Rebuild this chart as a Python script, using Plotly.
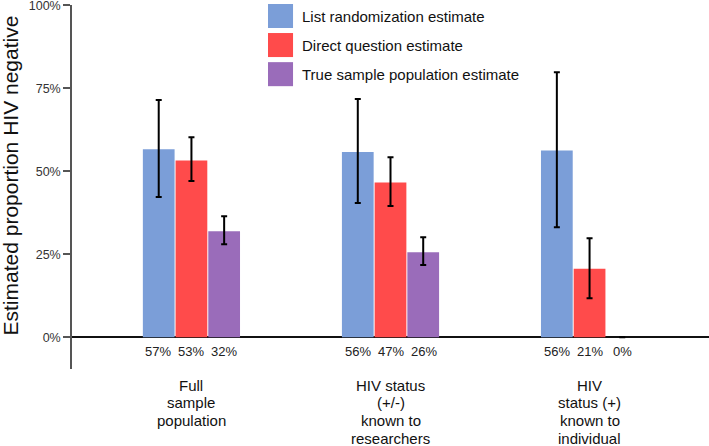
import plotly.graph_objects as go

# values (percent)
groups = [["Full", "sample", "population"],
          ["HIV status", "(+/-)", "known to", "researchers"],
          ["HIV", "status (+)", "known to", "individual"]]
series = ["List randomization estimate", "Direct question estimate",
          "True sample population estimate"]
colors = ["#7b9ed8", "#ff4b4b", "#9a6cba"]

list_est = [56.6, 55.8, 56.2]
list_hi = [71.4, 71.7, 79.8]
list_lo = [42.2, 40.4, 33.1]

direct_est = [53.2, 46.6, 20.6]
direct_hi = [60.2, 54.2, 29.8]
direct_lo = [47.0, 39.5, 11.7]

true_est = [31.9, 25.6, 0.0]
true_hi = [36.4, 30.1, None]
true_lo = [28.0, 21.7, None]

values = [list_est, direct_est, true_est]
highs = [list_hi, direct_hi, true_hi]
lows = [list_lo, direct_lo, true_lo]

x = [0, 1, 2]
font = "Liberation Sans, Arial, sans-serif"

fig = go.Figure()
for name, col, v, hi, lo in zip(series, colors, values, highs, lows):
    plus = [(h - e) if h is not None else 0 for h, e in zip(hi, v)]
    minus = [(e - l) if l is not None else 0 for l, e in zip(lo, v)]
    fig.add_trace(go.Bar(
        x=x, y=v, name=name,
        marker=dict(color=col, line=dict(color="white", width=0)),
        error_y=dict(type="data", symmetric=False, array=plus, arrayminus=minus,
                     color="black", thickness=2, width=3),
        showlegend=False,
    ))

# percent labels under each bar
offsets = [-33, 0, 33]
for v, dx in zip(values, offsets):
    for xi, val in zip(x, v):
        fig.add_annotation(x=xi, y=-4.3, xref="x", yref="y", xshift=dx,
                           text=f"{round(val):.0f}%", showarrow=False,
                           font=dict(size=13, color="#222", family=font))

# group names below the axis, one line at a time for tighter spacing
for xi, lines in zip(x, groups):
    for i, line in enumerate(lines):
        fig.add_annotation(x=xi, y=0, xref="x", yref="paper",
                           yanchor="middle", yshift=-16 - i * 17.7,
                           text=line, showarrow=False,
                           font=dict(size=15, color="#111", family=font))

# legend drawn as swatches + text
sw_x0, sw_x1, tx = 0.3077, 0.347, 0.358
rows = [(1.0027, 0.9368), (0.923, 0.857), (0.843, 0.777)]
for (y1, y0), col, name in zip(rows, colors, series):
    fig.add_shape(type="rect", xref="paper", yref="paper",
                  x0=sw_x0, x1=sw_x1, y0=y0, y1=y1,
                  fillcolor=col, line=dict(width=0))
    fig.add_annotation(x=tx, y=(y0 + y1) / 2, xref="paper", yref="paper",
                       xanchor="left", yanchor="middle", text=name,
                       showarrow=False, font=dict(size=15, color="#111", family=font))

# y axis title, placed by hand (sits a little above centre in the original)
fig.add_annotation(x=-0.095, y=0.533, xref="paper", yref="paper",
                   xanchor="center", yanchor="middle", textangle=-90,
                   text="Estimated proportion HIV negative", showarrow=False,
                   font=dict(size=21, color="#111", family=font))

fig.update_layout(
    width=709, height=446,
    margin=dict(l=72, r=0, t=5, b=77),
    paper_bgcolor="white", plot_bgcolor="white",
    barmode="group", bargap=0.507, bargroupgap=0.03,
    font=dict(family=font, color="#222"),
    showlegend=False,
)
fig.update_xaxes(
    range=[-0.6, 2.6], showticklabels=False, automargin=False,
    showline=False, showgrid=False, zeroline=False, ticks="",
)
fig.update_yaxes(
    range=[-9.6, 100.05], tickvals=[0, 25, 50, 75, 100],
    ticktext=["0%", "25%", "50%", "75%", "100%"], automargin=False,
    ticklabeloverflow="allow",
    showline=True, linecolor="#555", linewidth=1.5,
    ticks="outside", ticklen=7, tickcolor="#555", tickwidth=1.5,
    showgrid=False, zeroline=True, zerolinecolor="#111", zerolinewidth=1.5,
    tickfont=dict(size=12.5, color="#333"),
)

# drop the page's default body margin so the chart sits at the window corner
fig.write_html("out.html", config={"displayModeBar": False},
               post_script="document.body.style.margin='0';")
